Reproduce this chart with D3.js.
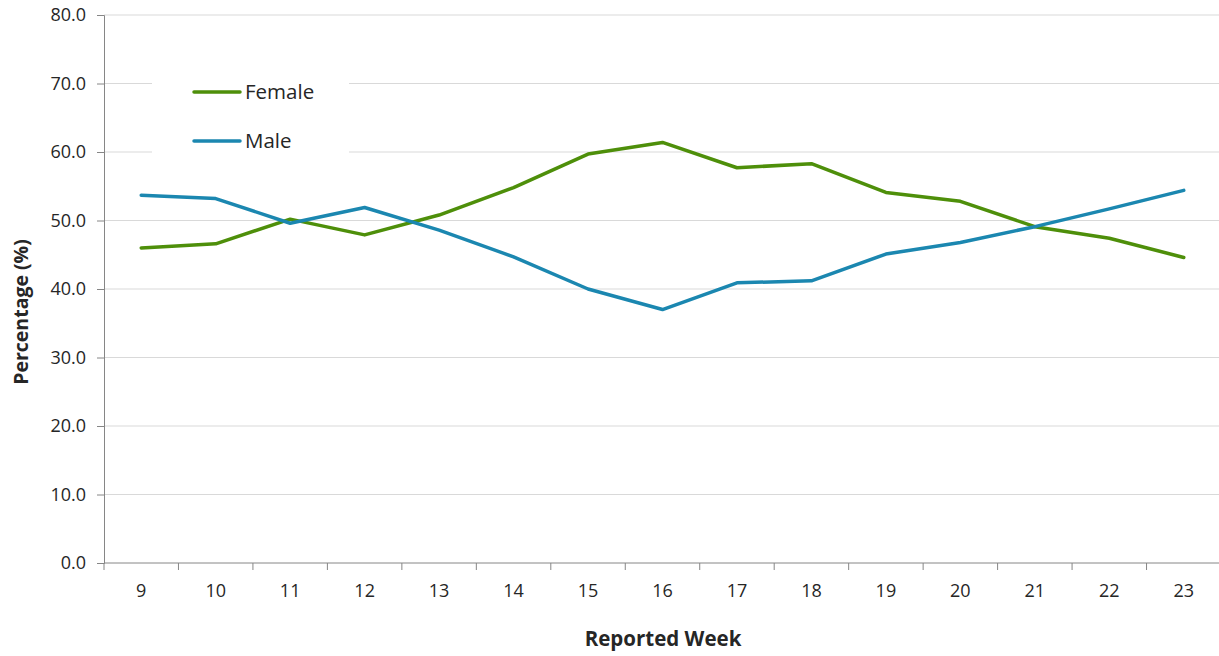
<!DOCTYPE html>
<html><head><meta charset="utf-8">
<script src="https://cdn.jsdelivr.net/npm/d3@7"></script>
<style>body{margin:0;background:#fff;} svg{display:block;font-family:"Open Sans",Lato,sans-serif;}</style>
</head><body>
<svg id="chart" width="1219" height="656"></svg>
<script>
const weeks = [9,10,11,12,13,14,15,16,17,18,19,20,21,22,23];
const female = [46.0,46.6,50.2,47.9,50.8,54.8,59.7,61.4,57.7,58.3,54.1,52.8,49.1,47.4,44.6];
const male   = [53.7,53.2,49.6,51.9,48.6,44.7,40.0,37.0,40.9,41.2,45.1,46.8,49.1,51.7,54.4];
const yTicks = [0,10,20,30,40,50,60,70,80];
const seriesNames = ["Female","Male"];
const seriesColors = ["#4e8f0a","#1b87b0"];

(function(){
const svg = d3.select("#chart");
const FONT = '"Open Sans", Lato, sans-serif';
const mL = 104, mR = 1221, mT = 15, mB = 563;
const x = d3.scaleBand().domain(weeks).range([mL, mR]);
const y = d3.scaleLinear().domain([0,80]).range([mB, mT]);

svg.append("g").selectAll("line").data(yTicks.slice(1)).join("line")
  .attr("x1", mL).attr("x2", mR)
  .attr("y1", d=>y(d)).attr("y2", d=>y(d))
  .attr("stroke", "#d9d9d9").attr("stroke-width", 1);

const yAxis = svg.append("g").attr("transform", `translate(${mL},0)`)
  .call(d3.axisLeft(y).tickValues(yTicks).tickFormat(d3.format(".1f")).tickSize(7).tickPadding(11))
  .attr("font-family", FONT).attr("font-size", 18);
yAxis.select(".domain").attr("stroke", "#868686");
yAxis.selectAll(".tick line").attr("stroke", "#868686");
yAxis.selectAll("text").attr("fill", "#262626");

const xAxis = svg.append("g").attr("transform", `translate(0,${mB})`)
  .call(d3.axisBottom(x).tickSize(0).tickPadding(21))
  .attr("font-family", FONT).attr("font-size", 18);
xAxis.select(".domain").attr("stroke", "#868686").attr("d", `M${mL},0H${mR}`);
xAxis.selectAll("text").attr("fill", "#262626");
svg.append("g").selectAll("line").data(weeks).join("line")
  .attr("x1", d=>x(d)).attr("x2", d=>x(d))
  .attr("y1", mB).attr("y2", mB+7)
  .attr("stroke", "#868686");

const line = d3.line().x((d,i)=>x(weeks[i]) + x.bandwidth()/2).y(d=>y(d));
[female, male].forEach((s,i)=>{
  svg.append("path").datum(s).attr("d", line)
    .attr("fill","none").attr("stroke", seriesColors[i]).attr("stroke-width", 3.5)
    .attr("stroke-linejoin","round").attr("stroke-linecap","round");
});

svg.append("rect").attr("x",152).attr("y",70).attr("width",197).attr("height",90).attr("fill","#fff");
seriesNames.forEach((n,i)=>{
  const ly = 92 + i*49;
  svg.append("line").attr("x1",194).attr("x2",240).attr("y1",ly).attr("y2",ly)
    .attr("stroke", seriesColors[i]).attr("stroke-width",3.5).attr("stroke-linecap","round");
  svg.append("text").attr("x",245).attr("y",ly+7).attr("font-size",20.5).attr("fill","#262626").text(n);
});

svg.append("text").attr("x", 663).attr("y", 646).attr("text-anchor","middle")
  .attr("font-size",20.5).attr("font-weight","bold").attr("fill","#262626").text("Reported Week");
svg.append("text").attr("transform","translate(28,312) rotate(-90)").attr("text-anchor","middle")
  .attr("font-size",19.5).attr("font-weight","bold").attr("fill","#262626").text("Percentage (%)");
})();
</script>
</body></html>
